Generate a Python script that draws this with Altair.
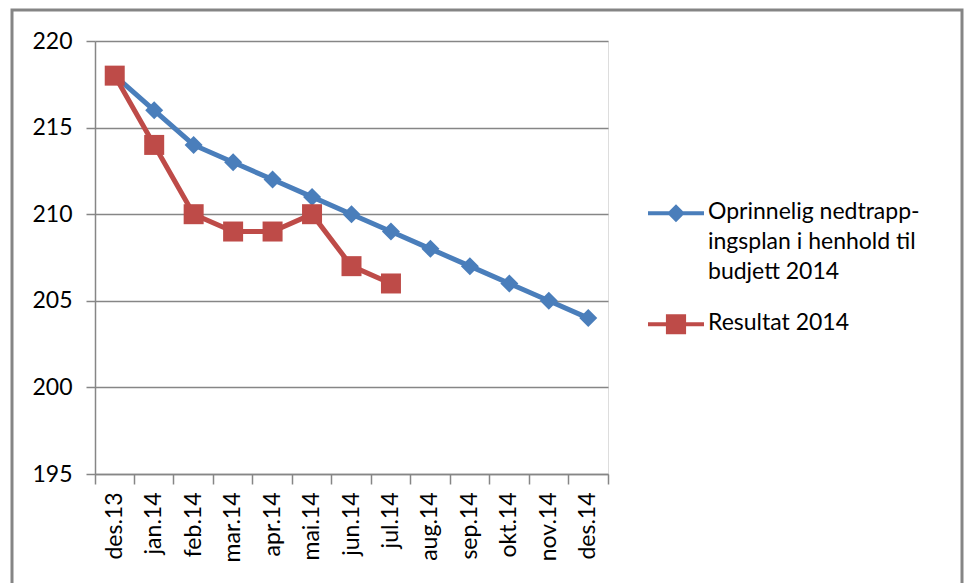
import altair as alt
import pandas as pd

months = ["des.13", "jan.14", "feb.14", "mar.14", "apr.14", "mai.14", "jun.14",
          "jul.14", "aug.14", "sep.14", "okt.14", "nov.14", "des.14"]
plan_values = [218, 216, 214, 213, 212, 211, 210, 209, 208, 207, 206, 205, 204]
result_values = [218, 214, 210, 209, 209, 210, 207, 206]

plan_name = "Oprinnelig nedtrapp-ingsplan i henhold til budjett 2014"
result_name = "Resultat 2014"
plan_label_lines = ["Oprinnelig nedtrapp-", "ingsplan i henhold til", "budjett 2014"]
y_ticks = [195, 200, 205, 210, 215, 220]

series_names = [plan_name, result_name]
series_colors = ["#4A7EBB", "#BE4B48"]

rows = []
for m, v in zip(months, plan_values):
    rows.append({"month": m, "value": v, "series": plan_name})
for m, v in zip(months, result_values):
    rows.append({"month": m, "value": v, "series": result_name})
df = pd.DataFrame(rows)

# legend symbols: line with marker (custom paths in [-1,1] box)
sym_plan = ("M-1,-0.28L1,-0.28L1,-0.13L-1,-0.13Z "
            "M0,-0.53L0.32,-0.205L0,0.12L-0.32,-0.205Z")
sym_result = ("M-1,-0.28L1,-0.28L1,-0.13L-1,-0.13Z "
              "M-0.36,-0.565L0.36,-0.565L0.36,0.155L-0.36,0.155Z")

label_expr = ("datum.value == '" + result_name + "' ? datum.label : ["
              + ", ".join("'" + s + "'" for s in plan_label_lines) + "]")

FONT = "Lato"
FS = 23
GRAY = "#868686"

x_enc = alt.X(
    "month:N", sort=months,
    scale=alt.Scale(type="band", domain=months, paddingInner=0, paddingOuter=0),
    axis=alt.Axis(title=None, bandPosition=1, tickExtra=True, tickSize=10,
                  tickColor=GRAY, domainColor=GRAY, domainWidth=1.5, tickWidth=1.5,
                  labelAngle=270, labelAlign="right", labelBaseline="middle",
                  labelPadding=8, labelFont=FONT, labelFontSize=FS,
                  labelColor="#000000", grid=False),
)
y_enc = alt.Y(
    "value:Q",
    scale=alt.Scale(domain=[195, 220], nice=False, zero=False),
    axis=alt.Axis(title=None, values=y_ticks, grid=True, gridColor=GRAY,
                  gridWidth=1.5, domainColor=GRAY, domainWidth=1.5, tickColor=GRAY,
                  tickWidth=1.5, tickSize=9, labelPadding=14, labelFont=FONT,
                  labelFontSize=FS, labelColor="#000000"),
)
color_scale = alt.Scale(domain=series_names, range=series_colors)

base = alt.Chart(df)

# legend-only layer: no rows drawn, explicit domains keep the legend
legend_layer = base.transform_filter("false").mark_point(filled=True, opacity=1).encode(
    x=x_enc, y=y_enc,
    color=alt.Color("series:N", scale=color_scale,
                    legend=alt.Legend(title=None, orient="none", legendX=553,
                                      legendY=150, symbolSize=3136,
                                      symbolStrokeWidth=0, symbolOpacity=1,
                                      labelFont=FONT, labelFontSize=FS,
                                      labelColor="#000000", labelOffset=4,
                                      labelBaseline="alphabetic", labelLimit=500,
                                      rowPadding=18, labelExpr=label_expr)),
    shape=alt.Shape("series:N",
                    scale=alt.Scale(domain=series_names, range=[sym_plan, sym_result])),
)

lines = base.mark_line(strokeWidth=5).encode(
    x=x_enc, y=y_enc,
    color=alt.Color("series:N", scale=color_scale, legend=None),
)

plan_pts = base.transform_filter(alt.datum.series == plan_name).mark_point(
    shape="diamond", size=324, filled=True, opacity=1).encode(
    x=x_enc, y=y_enc,
    color=alt.Color("series:N", scale=color_scale, legend=None),
)
result_pts = base.transform_filter(alt.datum.series == result_name).mark_point(
    shape="square", size=400, filled=True, opacity=1).encode(
    x=x_enc, y=y_enc,
    color=alt.Color("series:N", scale=color_scale, legend=None),
)

frame = alt.Chart(pd.DataFrame({"f": [0]})).mark_rect(
    fillOpacity=0, stroke="#858585", strokeWidth=3).encode(
    x=alt.value(-83), x2=alt.value(867), y=alt.value(-31), y2=alt.value(549))

chart = alt.layer(legend_layer, lines, plan_pts, result_pts, frame).properties(
    width=513, height=433,
    autosize=alt.AutoSizeParams(type="none"),
    padding={"left": 87, "top": 33, "right": 357, "bottom": 109},
).configure_view(stroke=None).configure(
    style={"guide-label": {"lineHeight": 30}}
)

chart.save("out.html", embed_options={"renderer": "svg", "actions": False})
